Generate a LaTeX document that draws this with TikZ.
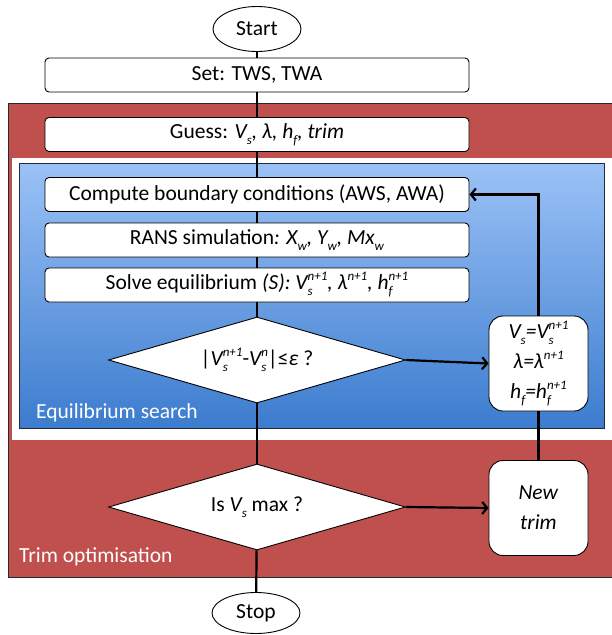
\documentclass[tikz,border=0pt]{standalone}
\usepackage{fontspec}
\setmainfont{Carlito}
\usetikzlibrary{shapes.geometric}
\usetikzlibrary{arrows.meta}
\definecolor{trimred}{RGB}{192,80,77}
\definecolor{searchtop}{RGB}{155,194,247}
\definecolor{searchbottom}{RGB}{60,124,206}
\definecolor{frameline}{RGB}{40,40,50}
\newcommand{\lowscript}[1]{\raisebox{-0.28em}{\fontsize{13}{13}\selectfont #1}}
\newcommand{\highscript}[1]{\raisebox{0.42em}{\fontsize{13}{13}\selectfont #1}}
\newcommand{\scriptpair}[2]{\rlap{\lowscript{#1}}\highscript{#2}}
\tikzstyle{every node}=[font=\fontsize{21.5}{30}\selectfont]
\tikzstyle{process}=[draw, fill=white, rounded corners=4pt, minimum width=424pt, minimum height=34pt, line width=0.9pt, inner sep=0pt]
\tikzstyle{terminal}=[draw, ellipse, fill=white, minimum width=88pt, minimum height=45pt, line width=0.9pt, inner sep=0pt]
\tikzstyle{decision}=[draw, diamond, aspect=3.45, fill=white, minimum width=297pt, minimum height=86pt, line width=0.9pt, inner sep=0pt]
\tikzstyle{changebox}=[draw, fill=white, rounded corners=14pt, minimum width=99pt, minimum height=95pt, line width=0.9pt, align=center, inner sep=0pt]
\tikzstyle{zonelabel}=[anchor=west, text=white, inner sep=0pt]
\tikzstyle{flow}=[line width=2.2pt]
\tikzstyle{arrowflow}=[flow, -{Straight Barb[length=5pt,width=12pt]}]

\begin{document}
\begin{tikzpicture}[x=1pt, y=-1pt]
  \useasboundingbox (0,0) rectangle (611,635);
  \draw[frameline, line width=0.6pt, fill=trimred] (8,103) rectangle (613,577);
  \fill[white] (12,158) rectangle (613,440);
  \draw[frameline, line width=0.8pt, top color=searchtop, bottom color=searchbottom] (19,163) rectangle (604,428);
  \node[zonelabel] (searchlabel) at (36,413) {Equilibrium search};
  \node[zonelabel] (trimlabel) at (19,557) {Trim optimisation};

  \node[terminal] (start) at (257,29) {Start};
  \node[process] (set) at (257,75) {Set: TWS, TWA};
  \node[process] (guess) at (257,134.5) {Guess: \textit{V\lowscript{s}, λ, h\lowscript{f}, trim}};
  \node[process] (compute) at (257,194.5) {Compute boundary conditions (AWS, AWA)};
  \node[process] (rans) at (257,240) {RANS simulation\textit{: X\lowscript{w}, Y\lowscript{w}, Mx\lowscript{w}}};
  \node[process] (solve) at (257,285) {Solve equilibrium \textit{(S): V\scriptpair{s}{n+1}, λ\highscript{n+1}, h\scriptpair{f}{n+1}}};
  \node[decision] (test) at (257,360) {|\textit{V\scriptpair{s}{n+1}}-\textit{V\scriptpair{s}{n}}|≤\textit{ε} ?};
  \node[changebox] (update) at (538.5,363.5) {\textit{V\lowscript{s}=V\scriptpair{s}{n+1}}\\\textit{λ=λ\highscript{n+1}}\\\textit{h\lowscript{f}=h\scriptpair{f}{n+1}}};
  \node[decision] (vmax) at (257,507) {Is \textit{V\lowscript{s}} max ?};
  \node[changebox] (newtrim) at (538.5,508) {\textit{New}\\\textit{trim}};
  \node[terminal, minimum height=41pt] (stop) at (256,613) {Stop};

  \draw[flow] (start) -- (set);
  \draw[flow] (set) -- (guess);
  \draw[flow] (guess) -- (compute);
  \draw[flow] (compute) -- (rans);
  \draw[flow] (rans) -- (solve);
  \draw[flow] (solve) -- (test);
  \draw[flow] (test) -- (vmax);
  \draw[flow] (vmax) -- (stop);
  \draw[arrowflow] (test.east) -- (update.west);
  \draw[arrowflow] (update.north) |- (compute.east);
  \draw[flow] (newtrim) -- (update);
  \draw[arrowflow] (vmax.east) -- (newtrim.west);
\end{tikzpicture}
\end{document}
